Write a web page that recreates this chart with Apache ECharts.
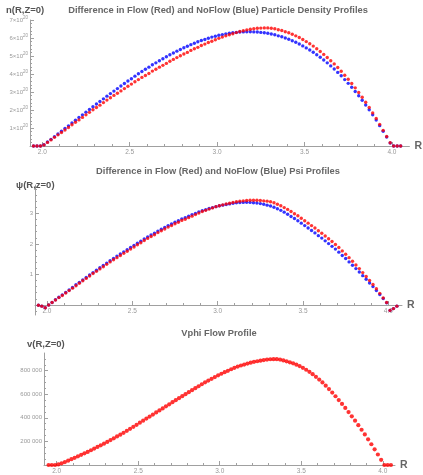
<!DOCTYPE html>
<html>
<head>
<meta charset="utf-8">
<title>Flow / NoFlow profiles</title>
<script src="https://cdn.jsdelivr.net/npm/echarts@6/dist/echarts.min.js"></script>
<style>
html,body{margin:0;padding:0;background:#fff;}
#main{width:423px;height:475px;}
</style>
</head>
<body>
<div id="main"></div>
<script>
// R grid (same for all three profiles)
var R=[1.95,1.97,1.99,
2.01,2.03,2.05,2.07,2.09,2.11,2.13,2.15,2.17,2.19,
2.21,2.23,2.25,2.27,2.29,2.31,2.33,2.35,2.37,2.39,
2.41,2.43,2.45,2.47,2.49,2.51,2.53,2.55,2.57,2.59,
2.61,2.63,2.65,2.67,2.69,2.71,2.73,2.75,2.77,2.79,
2.81,2.83,2.85,2.87,2.89,2.91,2.93,2.95,2.97,2.99,
3.01,3.03,3.05,3.07,3.09,3.11,3.13,3.15,3.17,3.19,
3.21,3.23,3.25,3.27,3.29,3.31,3.33,3.35,3.37,3.39,
3.41,3.43,3.45,3.47,3.49,3.51,3.53,3.55,3.57,3.59,
3.61,3.63,3.65,3.67,3.69,3.71,3.73,3.75,3.77,3.79,
3.81,3.83,3.85,3.87,3.89,3.91,3.93,3.95,3.97,3.99,
4.01,4.03,4.05];

// particle density, in units of 1e20
var nNoFlow=[0,0,0,
.07,.22,.37,.52,.67,.82,.97,1.12,1.28,1.43,
1.58,1.73,1.88,2.03,2.18,2.33,2.47,2.62,2.77,2.91,
3.05,3.19,3.33,3.47,3.61,3.74,3.88,4.01,4.14,4.26,
4.38,4.51,4.62,4.74,4.85,4.96,5.07,5.17,5.27,5.36,
5.46,5.54,5.63,5.71,5.79,5.86,5.92,5.99,6.05,6.10,
6.15,6.19,6.23,6.26,6.29,6.31,6.33,6.34,6.35,6.35,
6.34,6.33,6.31,6.29,6.26,6.22,6.18,6.12,6.07,6.00,
5.93,5.85,5.76,5.67,5.56,5.45,5.33,5.21,5.07,4.93,
4.78,4.62,4.45,4.28,4.09,3.90,3.69,3.48,3.26,3.03,
2.79,2.54,2.28,2.01,1.73,1.44,1.13,0.82,0.50,0.17,
0,0,0];
var nFlow=[0,0,0,
.06,.20,.34,.48,.62,.75,.89,1.03,1.18,1.32,
1.45,1.59,1.73,1.87,2.01,2.14,2.27,2.41,2.55,2.68,
2.81,2.93,3.06,3.19,3.32,3.44,3.57,3.69,3.81,3.92,
4.03,4.16,4.26,4.38,4.48,4.59,4.71,4.81,4.91,5.01,
5.11,5.20,5.31,5.40,5.48,5.58,5.66,5.75,5.82,5.90,
5.98,6.05,6.12,6.18,6.24,6.30,6.36,6.40,6.45,6.49,
6.51,6.54,6.55,6.56,6.56,6.54,6.51,6.46,6.42,6.35,
6.29,6.21,6.12,6.03,5.92,5.80,5.68,5.55,5.40,5.25,
5.09,4.92,4.74,4.56,4.36,4.15,3.93,3.71,3.47,3.23,
2.97,2.71,2.43,2.14,1.84,1.53,1.20,0.87,0.53,0.18,
0,0,0];

// psi
var psiNoFlow=[-0.01,-0.04,-0.09,
0.00,0.08,0.17,0.25,0.33,0.41,0.49,0.57,0.66,0.74,
0.82,0.90,0.98,1.06,1.14,1.22,1.29,1.37,1.45,1.52,
1.60,1.67,1.74,1.81,1.88,1.95,2.02,2.09,2.16,2.23,
2.29,2.35,2.42,2.48,2.54,2.60,2.65,2.71,2.76,2.82,
2.86,2.91,2.96,3.00,3.05,3.09,3.12,3.16,3.19,3.22,
3.25,3.27,3.29,3.31,3.33,3.345,3.355,3.36,3.365,3.36,
3.35,3.34,3.32,3.30,3.27,3.24,3.20,3.15,3.10,3.04,
2.97,2.90,2.83,2.76,2.68,2.60,2.52,2.44,2.36,2.27,
2.19,2.10,2.01,1.92,1.83,1.73,1.62,1.52,1.41,1.30,
1.19,1.08,0.96,0.84,0.72,0.60,0.47,0.34,0.21,0.07,
-0.18,-0.12,-0.04];
var psiFlow=[-0.01,-0.04,-0.09,
0.00,0.08,0.16,0.24,0.31,0.39,0.47,0.55,0.63,0.71,
0.79,0.87,0.95,1.03,1.10,1.18,1.25,1.33,1.41,1.48,
1.55,1.62,1.69,1.76,1.83,1.90,1.97,2.04,2.11,2.18,
2.24,2.30,2.37,2.43,2.49,2.55,2.60,2.66,2.71,2.77,
2.81,2.86,2.91,2.96,3.01,3.06,3.10,3.14,3.18,3.22,
3.25,3.28,3.31,3.33,3.36,3.38,3.40,3.41,3.42,3.43,
3.43,3.43,3.42,3.41,3.40,3.38,3.35,3.30,3.25,3.19,
3.13,3.06,2.99,2.92,2.84,2.76,2.68,2.60,2.52,2.43,
2.35,2.26,2.17,2.08,1.98,1.88,1.77,1.66,1.55,1.43,
1.31,1.19,1.06,0.93,0.80,0.67,0.53,0.38,0.23,0.08,
-0.18,-0.12,-0.04];

// vphi
var vFlow=[0,0,0,
5000,14000,25000,37000,49000,61000,74000,86000,99000,111000,
125000,139000,153000,167000,181000,196000,211000,226000,242000,257000,
273000,290000,307000,324000,341000,359000,376000,394000,411000,428000,
446000,463000,480000,498000,515000,533000,550000,567000,584000,601000,
618000,635000,652000,668000,685000,701000,716000,731000,746000,761000,
774000,787000,799000,812000,824000,835000,844000,852000,860000,868000,
875000,880000,885000,890000,894000,897000,898000,898000,894000,887000,
879000,871000,862000,851000,839000,824000,808000,790000,770000,748000,
725000,700000,673000,644000,614000,583000,551000,518000,484000,449000,
413000,376000,338000,299000,259000,218000,176000,133000,89000,44000,
0,0,0];

// tick labels
var xMajor=[2.0,2.5,3.0,3.5,4.0];
var nMajor=[1,2,3,4,5,6,7];
var psiMajor=[1,2,3];
var vMajor=[200000,400000,600000,800000];

var FONT='Liberation Sans, Arial, sans-serif';
var AXC='#a0a0a0';
var LBC='#999';

function pts(xs,ys){ return xs.map(function(x,i){ return [x,ys[i]]; }); }

// minor tick positions between the major ones
function minors(lo,hi,step,majorStep){
    var out=[];
    var n=Math.round((hi-lo)/step);
    for(var i=0;i<=n;i++){
        var v=Math.round((lo+i*step)*1e6)/1e6;
        var k=v/majorStep;
        if(Math.abs(k-Math.round(k))>1e-6) out.push(v);
    }
    return out;
}

// off = pixels to lift the x axis above the grid bottom (psi plot has its axis at 0)
function xAxesFor(gi,min,max,off){
    return [{
        type:'value',gridIndex:gi,min:min,max:max,position:'bottom',offset:-off,
        axisLine:{onZero:false,lineStyle:{color:AXC,width:1}},
        axisTick:{inside:true,length:4,customValues:xMajor,lineStyle:{color:AXC}},
        axisLabel:{customValues:xMajor,fontSize:6.5,color:LBC,margin:3,fontFamily:FONT,
            formatter:function(v){return v.toFixed(1);}},
        splitLine:{show:false},
        name:'R',nameLocation:'end',nameGap:5,
        nameTextStyle:{fontSize:10.5,fontWeight:'bold',color:'#666',fontFamily:FONT}
    },{
        type:'value',gridIndex:gi,min:min,max:max,position:'bottom',offset:-off,
        axisLine:{show:false,onZero:false},
        axisTick:{inside:true,length:2,customValues:minors(2.1,3.9,0.1,0.5),lineStyle:{color:AXC}},
        axisLabel:{show:false},splitLine:{show:false}
    }];
}

function yAxesFor(gi,min,max,major,minor,fmt,rich){
    return [{
        type:'value',gridIndex:gi,min:min,max:max,position:'left',
        axisLine:{show:true,onZero:false,lineStyle:{color:AXC,width:1}},
        axisTick:{inside:true,length:4,customValues:major,lineStyle:{color:AXC}},
        axisLabel:{customValues:major,fontSize:6,color:LBC,margin:2,fontFamily:FONT,formatter:fmt,rich:rich},
        splitLine:{show:false}
    },{
        type:'value',gridIndex:gi,min:min,max:max,position:'left',
        axisLine:{show:false,onZero:false},
        axisTick:{inside:true,length:2,customValues:minor,lineStyle:{color:AXC}},
        axisLabel:{show:false},splitLine:{show:false}
    }];
}

function dots(name,xi,yi,data,color,size){
    return {name:name,type:'scatter',xAxisIndex:xi,yAxisIndex:yi,data:data,
        symbol:'circle',symbolSize:size,itemStyle:{color:color},silent:true};
}

function txt(s,left,top,size,color,align){
    return {text:s,left:left,top:top,padding:0,textAlign:align||'left',
        textStyle:{fontSize:size,fontWeight:'bold',color:color,fontFamily:FONT}};
}

var chart=echarts.init(document.getElementById('main'),null,{renderer:'canvas'});

var xs=[].concat(xAxesFor(0,1.93,4.10,0),xAxesFor(1,1.93,4.08,10),xAxesFor(2,1.922,4.075,0));
var ys=[].concat(
    yAxesFor(0,0,7,nMajor,minors(0.2,6.8,0.2,1),
        function(v){return '{m|'+v+'×10}{e|20}';},
        {m:{fontSize:6,color:LBC,fontFamily:FONT},e:{fontSize:4.5,color:LBC,fontFamily:FONT,verticalAlign:'top',padding:[0,0,4,0]}}),
    yAxesFor(1,-0.33,3.93,psiMajor,minors(-0.2,3.8,0.2,1),
        function(v){return String(v);},null),
    yAxesFor(2,0,950000,vMajor,minors(50000,900000,50000,200000),
        function(v){return String(v).replace(/(\d{3})$/,' $1');},null)
);

var option={
    animation:false,
    backgroundColor:'#fff',
    title:[
        txt('Difference in Flow (Red) and NoFlow (Blue) Particle Density Profiles',218,6,9.3,'#666','center'),
        txt('n(R,Z=0)',6,5,9.5,'#555'),
        txt('Difference in Flow (Red) and NoFlow (Blue) Psi Profiles',218,167,9.3,'#666','center'),
        txt('ψ(R,z=0)',16,180,9.5,'#555'),
        txt('Vphi Flow Profile',219,329,9.3,'#666','center'),
        txt('v(R,Z=0)',27,339,9.5,'#555')
    ],
    grid:[
        {left:30,top:20,width:383,height:126,containLabel:false},
        {left:35,top:185,width:367,height:130,containLabel:false},
        {left:44,top:353,width:351,height:116,containLabel:false}
    ],
    xAxis:xs,
    yAxis:ys,
    series:[
        dots('n NoFlow',0,0,pts(R,nNoFlow),'#0000ff',3.4),
        dots('n Flow',0,0,pts(R,nFlow),'#ff0000',3.4),
        dots('psi NoFlow',2,2,pts(R,psiNoFlow),'#0000ff',3.4),
        dots('psi Flow',2,2,pts(R,psiFlow),'#ff0000',3.4),
        dots('vphi Flow',4,4,pts(R,vFlow),'#ff0000',4.2)
    ]
};
chart.setOption(option);
</script>
</body>
</html>
